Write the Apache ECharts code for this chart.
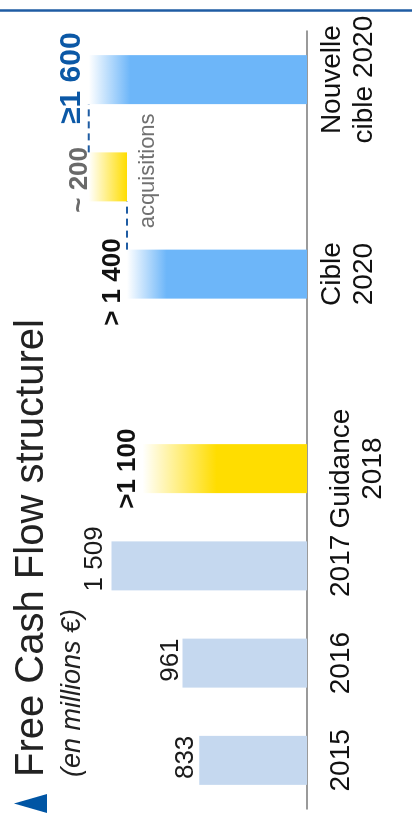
<!DOCTYPE html>
<html><head><meta charset="utf-8">
<script src="https://cdn.jsdelivr.net/npm/echarts@6/dist/echarts.min.js"></script>
<style>
html,body{margin:0;padding:0;background:#fff;width:412px;height:836px;overflow:hidden;}
#chart{position:absolute;left:0;top:0;width:836px;height:412px;transform-origin:0 0;transform:translate(0px,836px) rotate(-90deg);}
</style></head><body><div id="chart"></div>
<script>
// ---- data ----
const categories = ['2015', '2016', '2017', 'Guidance\n2018', '', 'Cible\n2020', 'acquisitions', 'Nouvelle\ncible 2020'];
const values = [833, 961, 1509, 1270, null, 1390, 295, 1685];      // visible bar heights (acquisitions = floating part)
const bases = [0, 0, 0, 0, 0, 0, 1390, 0];                         // invisible stack base (floating acquisitions bar)
const valueLabels = ['833', '961', '1 509', '>1 100', '', '> 1 400', '~ 200', '≥1 600'];
const titleText = 'Free Cash Flow structurel';
const subtitleText = '(en millions €)';

// ---- layout / style ----
const FONT = "'Liberation Sans', Arial, sans-serif";
const GRID = {left: 27, right: 31, top: 48, bottom: 105};
const W = 836, H = 412;
const BAR_W = 49;
const PAST = '#C5D8EF', BLUE = '#6DB6F9', YELLOW = '#FFDD00', DARKBLUE = '#0B58A6';

function grad(color, stop) {
  const stops = [{offset: 0, color: '#FFFFFF'}, {offset: stop, color: color}];
  if (stop < 1) stops.push({offset: 1, color: color});
  return new echarts.graphic.LinearGradient(0, 0, 0, 1, stops);
}
const fills = [PAST, PAST, PAST, grad(YELLOW, 0.45), PAST, grad(BLUE, 0.22), grad(YELLOW, 1), grad(BLUE, 0.19)];
const labelStyles = [
  {fontSize: 26, fontWeight: 'normal', color: '#1a1a1a', distance: 0, ox: 3},
  {fontSize: 26, fontWeight: 'normal', color: '#1a1a1a', distance: -1, ox: 3},
  {fontSize: 26, fontWeight: 'normal', color: '#1a1a1a', distance: 4, ox: 7},
  {fontSize: 26, fontWeight: 'bold', color: '#111', distance: 2, ox: 0},
  {fontSize: 26, fontWeight: 'normal', color: '#111', distance: 0, ox: 0},
  {fontSize: 26, fontWeight: 'bold', color: '#111', distance: 1, ox: -8},
  {fontSize: 26, fontWeight: 'bold', color: '#6a6a6a', distance: -4, ox: -3},
  {fontSize: 30, fontWeight: 'bold', color: DARKBLUE, distance: 2, ox: 1.5}
];

const mainData = values.map((v, i) => ({
  value: v,
  itemStyle: {color: fills[i]},
  label: {
    show: valueLabels[i] !== '',
    position: 'top',
    formatter: valueLabels[i],
    distance: labelStyles[i].distance,
    offset: [labelStyles[i].ox, 0],
    fontSize: labelStyles[i].fontSize,
    fontWeight: labelStyles[i].fontWeight,
    color: labelStyles[i].color,
    fontFamily: FONT
  }
}));
const baseData = bases.map((v, i) => ({
  value: v,
  label: {
    show: i === 6,
    position: 'insideTop',
    formatter: categories[i],
    distance: 10,
    offset: [6, 0],
    fontSize: 22,
    color: '#707070',
    fontFamily: FONT
  }
}));

// connectors between the floating bar and neighbours (in slot units)
const slotW = (W - GRID.left - GRID.right) / categories.length;
const half = BAR_W / slotW / 2;
const iCible = 5, iAcq = 6, iNew = 7;
const lowLevel = values[iCible];
const highLevel = bases[iAcq] + values[iAcq];
const conn1 = [[iCible + 0.5 + half, lowLevel], [iAcq + 0.5 - half, lowLevel]];
const conn2 = [[iAcq + 0.5 + half, highLevel], [iNew + 0.5 - half, highLevel]];

const firstGroupShift = 9;
const catData = categories.map((c, i) => (i <= 3 ? {value: c, textStyle: {padding: [firstGroupShift, 0, 0, 0]}} : {value: c}));

const chart = echarts.init(document.getElementById('chart'), null, {renderer: 'canvas'});
chart.setOption({
  backgroundColor: '#fff',
  animation: false,
  title: {
    text: titleText,
    subtext: subtitleText,
    left: 59, top: 12, padding: 0, itemGap: 7,
    textStyle: {fontSize: 40, fontWeight: 'normal', color: '#222', fontFamily: FONT},
    subtextStyle: {fontSize: 27, fontStyle: 'italic', color: '#222', fontFamily: FONT}
  },
  grid: Object.assign({containLabel: false, outerBoundsMode: 'none'}, GRID),
  xAxis: [
    {
      type: 'category', data: catData,
      axisLine: {lineStyle: {color: '#7a7a7a', width: 1.5}},
      axisTick: {show: false},
      axisLabel: {
        interval: 0, margin: 9, fontSize: 28, lineHeight: 32, color: '#111', fontFamily: FONT,
        formatter: v => (v === 'acquisitions' ? '' : v)
      },
      splitLine: {show: false}
    },
    {type: 'value', min: 0, max: categories.length, show: false, splitLine: {show: false}}
  ],
  yAxis: {type: 'value', min: 0, max: 2000, show: false, splitLine: {show: false}},
  series: [
    {type: 'bar', stack: 'fcf', barWidth: BAR_W, data: baseData, itemStyle: {color: 'rgba(0,0,0,0)'}, silent: true},
    {type: 'bar', stack: 'fcf', barWidth: BAR_W, data: mainData},
    {type: 'line', xAxisIndex: 1, data: conn1, symbol: 'none', lineStyle: {color: '#1F5CA3', width: 2, type: [7, 5]}},
    {type: 'line', xAxisIndex: 1, data: conn2, symbol: 'none', lineStyle: {color: '#1F5CA3', width: 2, type: [7, 5]}}
  ],
  graphic: [
    {type: 'line', shape: {x1: 825.5, y1: 0, x2: 825.5, y2: H}, style: {stroke: '#1F5CA3', lineWidth: 2.5}},
    {type: 'polygon', shape: {points: [[23, 47], [42, 47], [32.5, 14]]}, style: {fill: '#0055A4'}}
  ]
});
</script></body></html>
